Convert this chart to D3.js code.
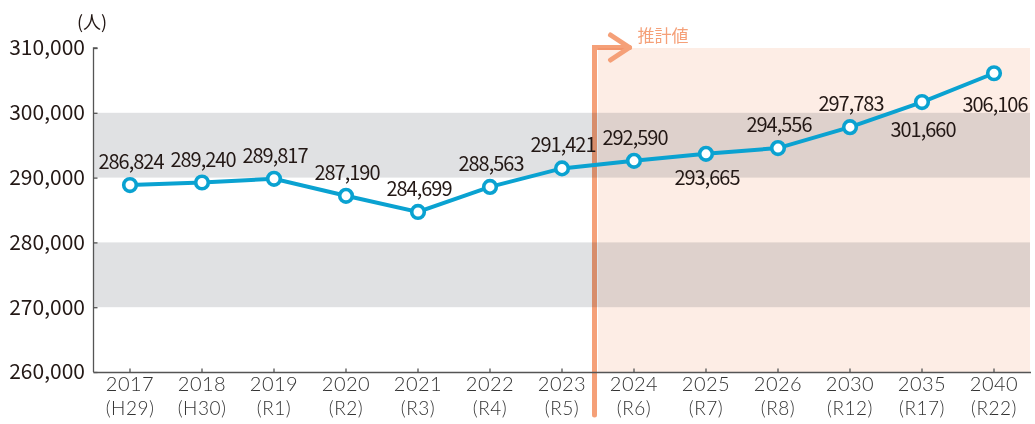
<!DOCTYPE html>
<html>
<head>
<meta charset="utf-8">
<script src="https://cdn.jsdelivr.net/npm/d3@7"></script>
<style>
  body { margin: 0; background: #fff; }
  text { font-family: "Noto Sans CJK JP", "Noto Sans", sans-serif; }
</style>
</head>
<body>
<div id="chart"></div>
<script>
// data
const years = ["2017","2018","2019","2020","2021","2022","2023","2024","2025","2026","2030","2035","2040"];
const eras = ["(H29)","(H30)","(R1)","(R2)","(R3)","(R4)","(R5)","(R6)","(R7)","(R8)","(R12)","(R17)","(R22)"];
// figures printed on the chart
const population = [286824, 289240, 289817, 287190, 284699, 288563, 291421, 292590, 293665, 294556, 297783, 301660, 306106];
// level at which each point is drawn (the source draws 2017 at ~288,850)
const plotted = [288850, 289240, 289817, 287190, 284699, 288563, 291421, 292590, 293665, 294556, 297783, 301660, 306106];
const yTicks = [260000, 270000, 280000, 290000, 300000, 310000];
const shadedBands = [[270000, 280000], [290000, 300000]];
const firstForecast = "2024";

const width = 1035, height = 424;
const margin = {top: 48, right: 5, bottom: 52, left: 94};

const svg = d3.select("#chart").append("svg")
  .attr("width", width)
  .attr("height", height);

const x = d3.scaleBand()
  .domain(years)
  .range([margin.left, width - margin.right]);

const y = d3.scaleLinear()
  .domain([260000, 310000])
  .range([height - margin.bottom, margin.top]);

const cx = d => x(d) + x.bandwidth() / 2;
const fmt = d3.format(",");

// gray bands
svg.append("g").selectAll("rect").data(shadedBands).enter()
  .append("rect")
  .attr("x", margin.left)
  .attr("width", width - margin.right - margin.left)
  .attr("y", d => y(d[1]))
  .attr("height", d => y(d[0]) - y(d[1]))
  .style("fill", "#e0e1e3");

// forecast area
const fx = x(firstForecast);
svg.append("rect")
  .attr("x", fx)
  .attr("y", y(310000))
  .attr("width", width - margin.right - fx)
  .attr("height", y(260000) - y(310000))
  .style("fill", "#fdede5")
  .style("mix-blend-mode", "multiply");

// forecast marker line + arrow
const lx = fx - 3.5;
const ty = y(310000) - 0.5;
svg.append("path")
  .attr("d", "M" + lx + "," + (height - 9) + "V" + ty + "H" + (lx + 35))
  .style("fill", "none")
  .style("stroke", "#f5a078")
  .style("stroke-width", 5)
  .style("stroke-linecap", "round")
  .style("mix-blend-mode", "multiply");
svg.append("path")
  .attr("d", "M" + (lx + 16) + "," + (ty - 12.5) + "L" + (lx + 35) + "," + ty + "L" + (lx + 16) + "," + (ty + 12.5))
  .style("fill", "none")
  .style("stroke", "#f5a078")
  .style("stroke-width", 5)
  .style("stroke-linecap", "round")
  .style("stroke-linejoin", "round");
svg.append("text")
  .attr("x", lx + 43)
  .attr("y", 42)
  .style("font-size", "17px")
  .style("fill", "#f5a078")
  .text("推計値");

// axes
const yAxis = d3.axisRight(y).tickValues(yTicks).tickSize(4).tickFormat("");
const yg = svg.append("g")
  .attr("transform", "translate(" + (margin.left - 0.5) + ",0)")
  .call(yAxis);
yg.select(".domain").attr("d", "M0," + y(260000) + "V" + y(310000) + "h4");

const xAxis = d3.axisTop(x).tickSize(4).tickFormat("");
const xg = svg.append("g")
  .attr("transform", "translate(0," + (y(260000) + 0.5) + ")")
  .call(xAxis);
xg.select(".domain").attr("d", "M" + (margin.left - 0.5) + ",0H" + (width - margin.right + 1));
svg.selectAll(".domain, .tick line").style("stroke", "#555").style("stroke-width", 1.3);

// y tick labels
svg.append("g").selectAll("text").data(yTicks).enter()
  .append("text")
  .attr("x", 85)
  .attr("y", d => y(d))
  .attr("dy", "0.35em")
  .attr("text-anchor", "end")
  .style("font-size", "21px")
  .style("fill", "#231815")
  .text(d => fmt(d));

svg.append("text")
  .attr("x", 92)
  .attr("y", 29)
  .attr("text-anchor", "middle")
  .style("font-size", "18px")
  .style("fill", "#231815")
  .text("(人)");

// x tick labels, two lines (Lato keeps the line boxes apart)
svg.append("g").selectAll("text").data(years).enter()
  .append("text")
  .attr("x", d => cx(d))
  .attr("y", 391)
  .attr("text-anchor", "middle")
  .style("font-family", "Lato, sans-serif")
  .style("font-size", "20px")
  .style("letter-spacing", "0.5px")
  .style("font-weight", 300)
  .style("fill", "#333")
  .text(d => d);
svg.append("g").selectAll("text").data(eras).enter()
  .append("text")
  .attr("x", (d, i) => cx(years[i]))
  .attr("y", 415)
  .attr("text-anchor", "middle")
  .style("font-family", "Lato, sans-serif")
  .style("font-size", "19px")
  .style("letter-spacing", "0.5px")
  .style("font-weight", 300)
  .style("fill", "#333")
  .text(d => d);

// line
const pts = years.map((d, i) => ({year: d, v: plotted[i], label: population[i]}));
svg.append("path")
  .datum(pts)
  .attr("d", d3.line().x(d => cx(d.year)).y(d => y(d.v)))
  .style("fill", "none")
  .style("stroke", "#0aa2d1")
  .style("stroke-width", 4);

svg.append("g").selectAll("circle").data(pts).enter()
  .append("circle")
  .attr("cx", d => cx(d.year))
  .attr("cy", d => y(d.v))
  .attr("r", 6.3)
  .style("fill", "#fff")
  .style("stroke", "#0aa2d1")
  .style("stroke-width", 3.6);

// value labels (a few sit under the point)
const labelDy = {"2025": 31, "2035": 35, "2040": 39};
svg.append("g").selectAll("text").data(pts).enter()
  .append("text")
  .attr("x", d => cx(d.year) + 1)
  .attr("y", d => y(d.v) + (labelDy[d.year] || -16))
  .attr("text-anchor", "middle")
  .style("font-size", "20px")
  .style("letter-spacing", "-1px")
  .style("fill", "#231815")
  .text(d => fmt(d.label));
</script>
</body>
</html>
